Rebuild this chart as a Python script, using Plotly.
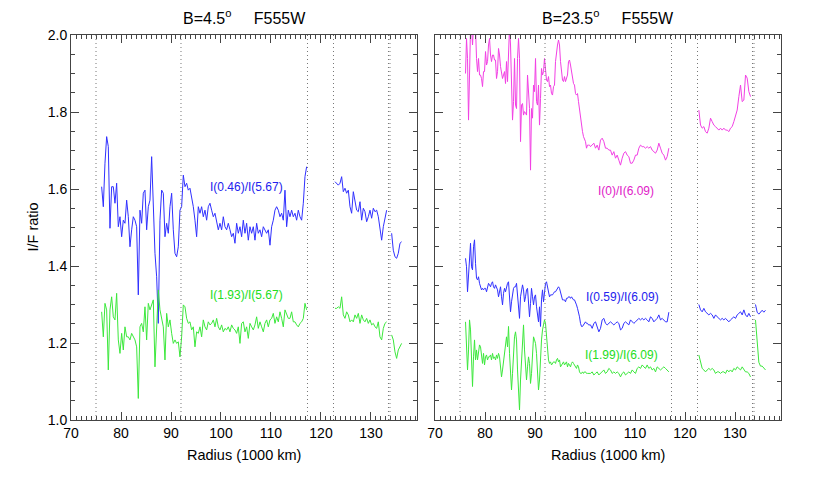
import numpy as np
import plotly.graph_objects as go

# ring boundaries drawn as dotted lines (1000 km)
ring_edges = [75.0, 92.0, 117.3, 122.5, 133.5, 133.8]

# ---- left panel, B=4.5 deg: samples every 1/3 (1000 km) ----
left_starts = [76.13, 122.8, 134.13]

left_blue_c = [
    1.606, 1.554, 1.667, 1.736, 1.710, 1.498, 1.606, 1.606, 1.563, 1.615,
    1.502, 1.528, 1.476, 1.519, 1.511, 1.571, 1.528, 1.450, 1.494, 1.528,
    1.519, 1.502, 1.325, 1.545, 1.511, 1.589, 1.597, 1.494, 1.554, 1.571,
    1.684, 1.563, 1.433, 1.372, 1.251, 1.519, 1.597, 1.589, 1.476, 1.511,
    1.485, 1.554, 1.589, 1.494, 1.433, 1.424, 1.450, 1.545, 1.554,
    1.636, 1.606, 1.615, 1.597, 1.602, 1.580, 1.554, 1.519, 1.476, 1.554,
    1.537, 1.554, 1.528, 1.545, 1.519, 1.554, 1.563, 1.545, 1.528, 1.537,
    1.519, 1.494, 1.511, 1.494, 1.528, 1.502, 1.494, 1.511, 1.494, 1.476,
    1.485, 1.459, 1.511, 1.485, 1.502, 1.476, 1.519, 1.485, 1.511, 1.467,
    1.502, 1.485, 1.502, 1.467, 1.511, 1.485, 1.494, 1.476, 1.502, 1.494,
    1.485, 1.494, 1.454, 1.502, 1.519, 1.545, 1.554, 1.545, 1.528, 1.537,
    1.519, 1.597, 1.502, 1.545, 1.528, 1.545, 1.528, 1.537, 1.519, 1.545,
    1.528, 1.519, 1.563, 1.632, 1.658,
]
left_blue_a = [
    1.619, 1.615, 1.610, 1.615, 1.632, 1.593, 1.602, 1.589, 1.597, 1.554,
    1.537, 1.593, 1.567, 1.545, 1.541, 1.567, 1.519, 1.550, 1.541, 1.515,
    1.528, 1.545, 1.524, 1.550, 1.541, 1.545, 1.528, 1.493, 1.467, 1.502,
    1.528, 1.545,
]
left_blue_outer = [1.485, 1.441, 1.424, 1.420, 1.433, 1.459, 1.463]

left_green_c = [
    1.281, 1.216, 1.303, 1.286, 1.130, 1.286, 1.320, 1.268, 1.260, 1.329,
    1.208, 1.173, 1.225, 1.182, 1.242, 1.216, 1.216, 1.208, 1.225, 1.216,
    1.208, 1.190, 1.056, 1.242, 1.251, 1.229, 1.294, 1.208, 1.303, 1.286,
    1.303, 1.312, 1.138, 1.242, 1.338, 1.286, 1.268, 1.242, 1.156, 1.277,
    1.242, 1.260, 1.225, 1.199, 1.208, 1.199, 1.203, 1.164, 1.216,
    1.299, 1.294, 1.264, 1.251, 1.255, 1.234, 1.242, 1.190, 1.229, 1.225,
    1.242, 1.216, 1.260, 1.242, 1.234, 1.255, 1.247, 1.251, 1.260, 1.242,
    1.264, 1.242, 1.234, 1.247, 1.229, 1.238, 1.234, 1.242, 1.229, 1.247,
    1.238, 1.234, 1.225, 1.242, 1.199, 1.251, 1.255, 1.229, 1.242, 1.212,
    1.251, 1.242, 1.234, 1.247, 1.268, 1.238, 1.255, 1.242, 1.229, 1.251,
    1.260, 1.242, 1.260, 1.264, 1.277, 1.251, 1.268, 1.255, 1.281, 1.264,
    1.242, 1.286, 1.273, 1.264, 1.264, 1.281, 1.255, 1.255, 1.247, 1.242,
    1.251, 1.255, 1.264, 1.303, 1.286,
]
left_green_a = [
    1.290, 1.290, 1.294, 1.290, 1.320, 1.273, 1.264, 1.281, 1.273, 1.255,
    1.260, 1.255, 1.273, 1.264, 1.277, 1.251, 1.273, 1.260, 1.255, 1.264,
    1.251, 1.260, 1.247, 1.251, 1.242, 1.238, 1.255, 1.216, 1.208, 1.238,
    1.251, 1.255,
]
left_green_outer = [1.221, 1.208, 1.177, 1.160, 1.182, 1.190, 1.199]

# ---- right panel, B=23.5 deg ----
# C ring sampled every 0.2 from 76.1, then every 1/3 from 101.1
right_starts = [76.1, 101.1, 122.77, 134.1]

right_magenta_c = [
    1.900, 1.991, 1.939, 1.779, 1.896, 2.020, 2.020, 1.974, 2.020, 2.020,
    2.020, 1.939, 1.905, 1.939, 1.896, 1.896, 1.887, 1.866, 1.905, 1.905,
    1.957, 1.922, 1.931, 1.974, 1.991, 1.948, 1.931, 1.948, 1.948, 1.935,
    1.935, 1.887, 1.905, 1.965, 1.948, 1.918, 1.905, 1.887, 1.896, 1.905,
    1.874, 1.931, 1.879, 1.948, 2.020, 1.974, 1.887, 1.779, 1.827, 1.939,
    1.818, 1.809, 1.939, 1.991, 1.939, 1.723, 1.818, 1.822, 1.792, 1.801,
    1.797, 1.792, 1.896, 1.853, 1.809, 1.649, 1.809, 1.784, 1.870, 1.853,
    1.939, 1.827, 1.818, 1.870, 1.766, 1.835, 1.913, 1.896, 1.905, 1.939,
    1.913, 1.883, 1.879, 1.892, 1.866, 1.870, 1.848, 1.844, 1.866, 1.870,
    1.931, 1.957, 1.974, 1.987, 1.974, 1.931, 1.913, 1.883, 1.879, 1.892,
    1.879, 1.892, 1.896, 1.931, 1.935, 1.922, 1.905, 1.883, 1.874, 1.870,
    1.848, 1.844, 1.848, 1.827, 1.805, 1.784, 1.766, 1.749, 1.736, 1.727,
    1.723, 1.706, 1.714, 1.714, 1.714,
]
right_magenta_b = [
    1.710, 1.714, 1.719, 1.706, 1.714, 1.701, 1.727, 1.732, 1.723, 1.706,
    1.706, 1.701, 1.701, 1.688, 1.697, 1.680, 1.688, 1.675, 1.662, 1.680,
    1.693, 1.697, 1.688, 1.684, 1.667, 1.667, 1.675, 1.688, 1.688, 1.706,
    1.714, 1.710, 1.710, 1.706, 1.710, 1.706, 1.710, 1.701, 1.697, 1.693,
    1.701, 1.719, 1.706, 1.693, 1.688, 1.675, 1.684, 1.706,
]
right_magenta_a = [
    1.805, 1.766, 1.758, 1.762, 1.749, 1.745, 1.758, 1.784, 1.775, 1.766,
    1.762, 1.758, 1.753, 1.758, 1.753, 1.758, 1.753, 1.753, 1.749, 1.758,
    1.762, 1.775, 1.788, 1.805, 1.840, 1.870, 1.827, 1.831, 1.896, 1.888,
    1.853, 1.840,
]

right_blue_c = [
    1.420, 1.398, 1.333, 1.381, 1.416, 1.459, 1.398, 1.390, 1.450, 1.468,
    1.407, 1.368, 1.364, 1.372, 1.355, 1.342, 1.338, 1.342, 1.338, 1.342,
    1.342, 1.333, 1.342, 1.355, 1.351, 1.346, 1.355, 1.359, 1.346, 1.342,
    1.351, 1.346, 1.338, 1.320, 1.333, 1.346, 1.320, 1.299, 1.329, 1.342,
    1.333, 1.346, 1.355, 1.359, 1.320, 1.281, 1.307, 1.329, 1.342, 1.346,
    1.346, 1.355, 1.320, 1.286, 1.264, 1.320, 1.342, 1.351, 1.338, 1.307,
    1.320, 1.338, 1.342, 1.303, 1.268, 1.303, 1.342, 1.320, 1.299, 1.320,
    1.325, 1.294, 1.264, 1.255, 1.294, 1.243, 1.312, 1.338, 1.307, 1.329,
    1.355, 1.359, 1.346, 1.325, 1.320, 1.325, 1.325, 1.325, 1.329, 1.333,
    1.333, 1.338, 1.342, 1.346, 1.342, 1.329, 1.316, 1.312, 1.312, 1.312,
    1.307, 1.316, 1.316, 1.320, 1.320, 1.316, 1.320, 1.316, 1.312, 1.312,
    1.307, 1.299, 1.290, 1.281, 1.268, 1.251, 1.243, 1.243, 1.247, 1.251,
    1.255, 1.251, 1.251, 1.247, 1.247,
]
right_blue_b = [
    1.247, 1.238, 1.251, 1.255, 1.242, 1.229, 1.238, 1.260, 1.264, 1.251,
    1.247, 1.251, 1.255, 1.251, 1.247, 1.251, 1.255, 1.251, 1.234, 1.238,
    1.251, 1.255, 1.251, 1.247, 1.260, 1.255, 1.251, 1.255, 1.260, 1.264,
    1.260, 1.264, 1.260, 1.264, 1.260, 1.255, 1.268, 1.264, 1.255, 1.260,
    1.264, 1.273, 1.260, 1.264, 1.260, 1.255, 1.255, 1.280,
]
right_blue_a = [
    1.300, 1.286, 1.281, 1.290, 1.281, 1.277, 1.273, 1.277, 1.273, 1.264,
    1.273, 1.268, 1.264, 1.260, 1.264, 1.260, 1.264, 1.260, 1.255, 1.260,
    1.264, 1.268, 1.264, 1.273, 1.277, 1.281, 1.273, 1.286, 1.273, 1.268,
    1.277, 1.268,
]
right_blue_outer = [1.300, 1.280, 1.275, 1.280, 1.285, 1.280, 1.285]

right_green_c = [
    1.255, 1.208, 1.130, 1.182, 1.260, 1.234, 1.147, 1.087, 1.164, 1.208,
    1.156, 1.182, 1.156, 1.182, 1.195, 1.190, 1.164, 1.147, 1.173, 1.143,
    1.164, 1.169, 1.156, 1.164, 1.164, 1.169, 1.156, 1.173, 1.160, 1.164,
    1.156, 1.169, 1.160, 1.173, 1.164, 1.138, 1.112, 1.130, 1.151, 1.164,
    1.199, 1.216, 1.190, 1.243, 1.173, 1.130, 1.078, 1.121, 1.182, 1.216,
    1.229, 1.208, 1.130, 1.061, 1.026, 1.104, 1.164, 1.225, 1.247, 1.182,
    1.121, 1.104, 1.138, 1.164, 1.147, 1.095, 1.121, 1.173, 1.216, 1.208,
    1.199, 1.173, 1.130, 1.078, 1.104, 1.164, 1.208, 1.234, 1.251, 1.260,
    1.251, 1.216, 1.182, 1.156, 1.147, 1.151, 1.143, 1.147, 1.151, 1.151,
    1.147, 1.156, 1.160, 1.151, 1.156, 1.138, 1.143, 1.147, 1.151, 1.143,
    1.147, 1.151, 1.138, 1.147, 1.143, 1.138, 1.147, 1.151, 1.147, 1.143,
    1.138, 1.134, 1.143, 1.138, 1.125, 1.121, 1.121, 1.125, 1.121, 1.125,
    1.125, 1.121, 1.121, 1.121, 1.121,
]
right_green_b = [
    1.121, 1.125, 1.117, 1.121, 1.125, 1.117, 1.121, 1.125, 1.130, 1.121,
    1.125, 1.134, 1.130, 1.121, 1.125, 1.121, 1.125, 1.121, 1.112, 1.121,
    1.125, 1.117, 1.121, 1.125, 1.121, 1.130, 1.125, 1.121, 1.134, 1.138,
    1.134, 1.143, 1.138, 1.134, 1.143, 1.134, 1.138, 1.130, 1.134, 1.125,
    1.138, 1.134, 1.130, 1.134, 1.138, 1.134, 1.130, 1.125,
]
right_green_a = [
    1.169, 1.147, 1.134, 1.130, 1.125, 1.130, 1.134, 1.130, 1.134, 1.130,
    1.121, 1.125, 1.125, 1.121, 1.125, 1.125, 1.121, 1.130, 1.125, 1.130,
    1.125, 1.134, 1.130, 1.138, 1.134, 1.130, 1.138, 1.130, 1.125, 1.125,
    1.121, 1.112,
]
right_green_outer = [1.260, 1.200, 1.150, 1.140, 1.140, 1.135, 1.130]


def radii(start, step, n):
    return start + step * np.arange(n)


def join(parts):
    # parts: list of (x, y) arrays; None between them breaks the line
    xs, ys = [], []
    for i, (x, y) in enumerate(parts):
        if i:
            xs.append(None)
            ys.append(None)
        xs += list(x)
        ys += list(y)
    return xs, ys


third = 1 / 3
blue, green, magenta = "#3030ff", "#3ce83c", "#f240e4"

left_series = [
    (blue, [left_blue_c, left_blue_a, left_blue_outer]),
    (green, [left_green_c, left_green_a, left_green_outer]),
]

fig = go.Figure()

for color, segs in left_series:
    parts = [(radii(s, third, len(v)), v) for s, v in zip(left_starts, segs)]
    x, y = join(parts)
    fig.add_trace(go.Scatter(x=x, y=y, mode="lines", xaxis="x", yaxis="y",
                             line=dict(color=color, width=1)))

right_series = [
    (magenta, right_magenta_c, right_magenta_b, [right_magenta_a]),
    (blue, right_blue_c, right_blue_b, [right_blue_a, right_blue_outer]),
    (green, right_green_c, right_green_b, [right_green_a, right_green_outer]),
]

for color, c_part, b_part, rest in right_series:
    x0 = np.concatenate([radii(right_starts[0], 0.2, len(c_part)),
                         radii(right_starts[1], third, len(b_part))])
    y0 = list(c_part) + list(b_part)
    parts = [(x0, y0)]
    for s, v in zip(right_starts[2:], rest):
        parts.append((radii(s, third, len(v)), v))
    x, y = join(parts)
    fig.add_trace(go.Scatter(x=x, y=y, mode="lines", xaxis="x2", yaxis="y2",
                             line=dict(color=color, width=1)))

# dotted ring boundaries
for xref in ["x", "x2"]:
    for edge in ring_edges:
        fig.add_shape(type="line", xref=xref, yref="paper", x0=edge, x1=edge,
                      y0=0, y1=1,
                      line=dict(color="#777777", width=1, dash="1px,3px"))

font = "Liberation Sans, Arial, sans-serif"

labels = [
    ("x", "y", 105.2, 1.605, "I(0.46)/I(5.67)", "#2222ee"),
    ("x", "y", 105.2, 1.325, "I(1.93)/I(5.67)", "#22dd22"),
    ("x2", "y2", 108.2, 1.595, "I(0)/I(6.09)", "#e020c8"),
    ("x2", "y2", 107.4, 1.32, "I(0.59)/I(6.09)", "#2222ee"),
    ("x2", "y2", 107.2, 1.169, "I(1.99)/I(6.09)", "#22dd22"),
]
for xr, yr, lx, ly, txt, col in labels:
    fig.add_annotation(x=lx, y=ly, xref=xr, yref=yr, text=txt, showarrow=False,
                       xanchor="center", yanchor="middle",
                       font=dict(size=12, color=col, family=font))

left_mid, right_mid = 0.2437, 0.7563
titles = [(left_mid, "B=4.5<sup>o</sup>\u00a0\u00a0\u00a0\u00a0\u00a0F555W"),
          (right_mid, "B=23.5<sup>o</sup>\u00a0\u00a0\u00a0\u00a0\u00a0F555W")]
for tx, txt in titles:
    fig.add_annotation(x=tx, y=1, xref="paper", yref="paper",
                       xanchor="center", yanchor="middle", yshift=18,
                       text=txt, showarrow=False,
                       font=dict(size=16, color="black", family=font))

for tx in [left_mid, right_mid]:
    fig.add_annotation(x=tx, y=0, xref="paper", yref="paper",
                       xanchor="center", yanchor="middle", yshift=-35,
                       text="Radius (1000 km)", showarrow=False,
                       font=dict(size=14.5, color="black", family=font))

fig.add_annotation(x=0, y=0.5, xref="paper", yref="paper", xanchor="center",
                   yanchor="middle", xshift=-39, textangle=-90,
                   text="I/F ratio", showarrow=False,
                   font=dict(size=14.5, color="black", family=font))

axis_common = dict(
    showline=True, linecolor="#444444", linewidth=1, mirror="ticks",
    ticks="inside", tickcolor="#444444", showgrid=False, zeroline=False,
    automargin=False, tickfont=dict(size=14, color="black", family=font),
)

xaxis_common = dict(
    axis_common, range=[70, 139.2], tick0=70, dtick=10, ticklen=8,
    minor=dict(dtick=1, ticklen=4, ticks="inside", tickcolor="#444444"),
)
yaxis_common = dict(
    axis_common, range=[1.0, 2.0], tick0=1.0, dtick=0.2, ticklen=8,
    tickformat=".1f",
    minor=dict(dtick=0.05, ticklen=4, ticks="inside", tickcolor="#444444"),
)

fig.update_layout(
    width=830, height=484,
    margin=dict(l=63, r=57, t=27, b=72),
    showlegend=False,
    plot_bgcolor="white", paper_bgcolor="white",
    xaxis=dict(xaxis_common, domain=[0, 0.4873]),
    xaxis2=dict(xaxis_common, domain=[0.5127, 1], anchor="y2"),
    yaxis=dict(yaxis_common, anchor="x"),
    yaxis2=dict(yaxis_common, anchor="x2", showticklabels=False),
)

fig.write_html("out.html")
